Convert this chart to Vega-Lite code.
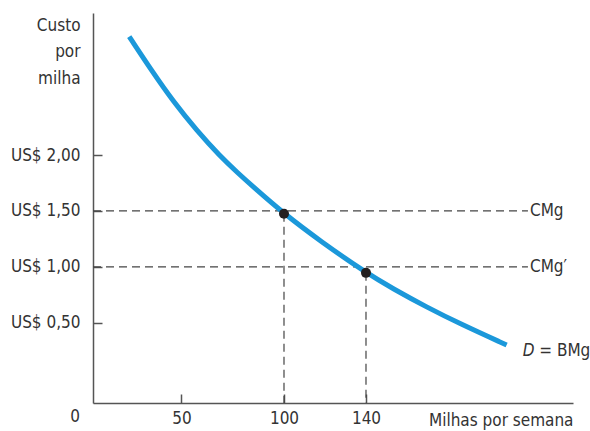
{
  "$schema": "https://vega.github.io/schema/vega-lite/v6.json",
  "width": 480,
  "height": 390,
  "autosize": {"type": "none"},
  "padding": {"left": 93, "top": 13, "right": 17, "bottom": 28},
  "background": "white",
  "config": {
    "view": {"stroke": null},
    "font": "Liberation Sans Narrow, DejaVu Sans Condensed, sans-serif",
    "text": {"font": "Liberation Sans Narrow, DejaVu Sans Condensed, sans-serif", "fontSize": 17, "color": "#333333"}
  },
  "datasets": {
    "curve": [
      {"x": 24.5, "y": 3.06},
      {"x": 36.2, "y": 2.735},
      {"x": 46.0, "y": 2.48},
      {"x": 57.4, "y": 2.22},
      {"x": 68.8, "y": 1.99},
      {"x": 77.7, "y": 1.837},
      {"x": 83.4, "y": 1.742},
      {"x": 100, "y": 1.475},
      {"x": 117.6, "y": 1.232},
      {"x": 140, "y": 0.946},
      {"x": 153.3, "y": 0.803},
      {"x": 169.6, "y": 0.639},
      {"x": 185.9, "y": 0.49},
      {"x": 208.6, "y": 0.3}
    ],
    "hlines": [
      {"x1": 6.83, "x2": 219, "y": 1.5},
      {"x1": 6.83, "x2": 219, "y": 1.0}
    ],
    "vlines": [
      {"x": 100, "y1": 1.475, "y2": -0.219},
      {"x": 140, "y1": 0.946, "y2": -0.219}
    ],
    "points": [
      {"x": 100, "y": 1.475},
      {"x": 140, "y": 0.946}
    ],
    "labels": [
      {"x": 219.5, "y": 1.5, "label": "CMg"},
      {"x": 219.5, "y": 1.0, "label": "CMg′"}
    ]
  },
  "layer": [
    {
      "data": {"name": "hlines"},
      "mark": {"type": "rule", "strokeDash": [8, 5], "color": "#444444", "strokeWidth": 1.2},
      "encoding": {
        "x": {"field": "x1", "type": "quantitative", "scale": {"domain": [6.83, 240.98], "nice": false, "zero": false},
          "axis": {"values": [50, 100, 140], "grid": false, "tickSize": -9, "tickColor": "#555555", "tickWidth": 1.5, "domainColor": "#555555", "domainWidth": 1.5, "labelPadding": 16, "labelFontSize": 17, "labelColor": "#333333", "labelFont": "Liberation Sans Narrow, DejaVu Sans Condensed, sans-serif",
            "title": "Milhas por semana", "titleFontWeight": "normal", "titleFontSize": 17, "titleColor": "#333333", "titleFont": "Liberation Sans Narrow, DejaVu Sans Condensed, sans-serif", "titleAnchor": "end", "titleAlign": "right", "titleX": 480, "titleY": 22, "titleBaseline": "alphabetic"}},
        "x2": {"field": "x2"},
        "y": {"field": "y", "type": "quantitative", "scale": {"domain": [-0.219, 3.272], "nice": false, "zero": false},
          "axis": {"values": [0.5, 1, 1.5, 2], "grid": false, "tickSize": -9, "tickColor": "#555555", "tickWidth": 1.5, "domainColor": "#555555", "domainWidth": 1.5, "labelPadding": 22, "labelFontSize": 17, "labelColor": "#333333", "labelFont": "Liberation Sans Narrow, DejaVu Sans Condensed, sans-serif",
            "labelExpr": "'US$ ' + replace(format(datum.value, '.2f'), '.', ',')",
            "title": ["Custo", "por", "milha"], "titleAngle": 0, "titleFontWeight": "normal", "titleFontSize": 17, "titleColor": "#333333", "titleFont": "Liberation Sans Narrow, DejaVu Sans Condensed, sans-serif", "titleAlign": "right", "titleBaseline": "middle", "titleX": -13, "titleY": 12, "titleLineHeight": 26.5}}
      }
    },
    {
      "data": {"name": "vlines"},
      "mark": {"type": "rule", "strokeDash": [8, 5], "color": "#444444", "strokeWidth": 1.2},
      "encoding": {
        "x": {"field": "x", "type": "quantitative"},
        "y": {"field": "y1", "type": "quantitative"},
        "y2": {"field": "y2"}
      }
    },
    {
      "data": {"name": "curve"},
      "mark": {"type": "line", "color": "#1b98da", "strokeWidth": 5, "interpolate": "basis", "strokeCap": "butt"},
      "encoding": {
        "x": {"field": "x", "type": "quantitative"},
        "y": {"field": "y", "type": "quantitative"}
      }
    },
    {
      "data": {"name": "points"},
      "mark": {"type": "circle", "color": "#231f20", "opacity": 1, "size": 100},
      "encoding": {
        "x": {"field": "x", "type": "quantitative"},
        "y": {"field": "y", "type": "quantitative"}
      }
    },
    {
      "data": {"name": "labels"},
      "mark": {"type": "text", "align": "left", "baseline": "middle", "dx": 1},
      "encoding": {
        "x": {"field": "x", "type": "quantitative"},
        "y": {"field": "y", "type": "quantitative"},
        "text": {"field": "label"}
      }
    },
    {
      "data": {"values": [{"x": 216.5, "y": 0.25, "label": "D"}]},
      "mark": {"type": "text", "align": "left", "baseline": "middle", "fontStyle": "italic"},
      "encoding": {
        "x": {"field": "x", "type": "quantitative"},
        "y": {"field": "y", "type": "quantitative"},
        "text": {"field": "label"}
      }
    },
    {
      "data": {"values": [{"x": 224.5, "y": 0.25, "label": "= BMg"}]},
      "mark": {"type": "text", "align": "left", "baseline": "middle"},
      "encoding": {
        "x": {"field": "x", "type": "quantitative"},
        "y": {"field": "y", "type": "quantitative"},
        "text": {"field": "label"}
      }
    },
    {
      "data": {"values": [{"x": 6.83, "y": -0.219, "label": "0"}]},
      "mark": {"type": "text", "align": "right", "baseline": "middle", "dx": -13, "dy": 14},
      "encoding": {
        "x": {"field": "x", "type": "quantitative"},
        "y": {"field": "y", "type": "quantitative"},
        "text": {"field": "label"}
      }
    }
  ]
}
